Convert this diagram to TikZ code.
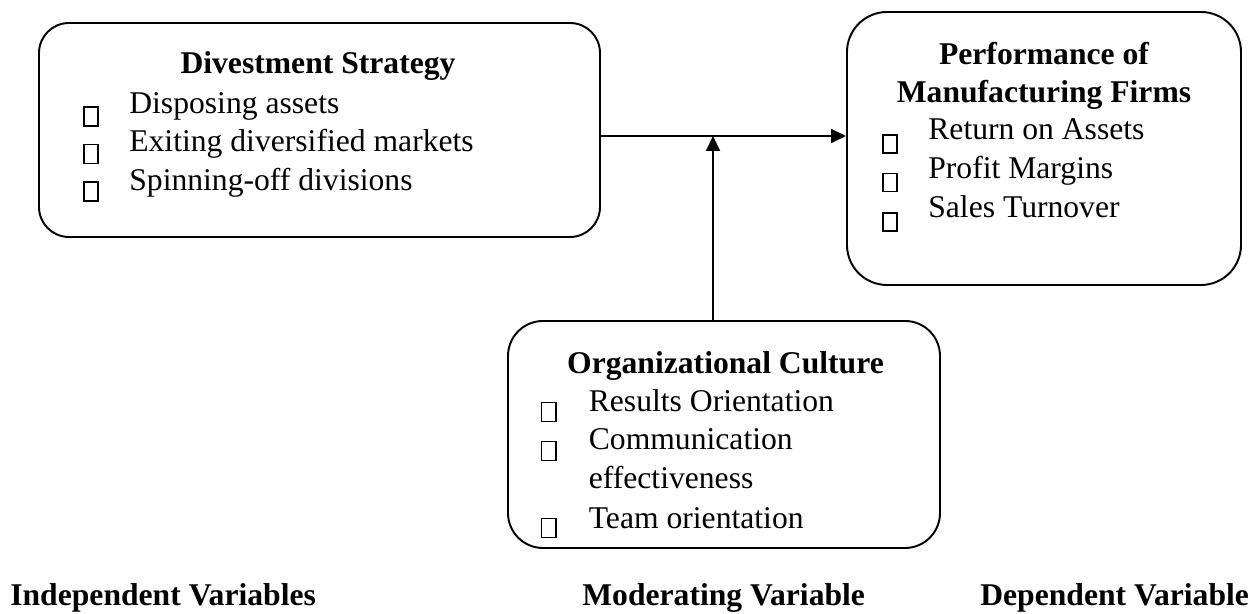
\documentclass[tikz,border=0pt]{standalone}
\usepackage{fontspec}
\setmainfont{Liberation Serif}
\usepackage{tikz}
\usetikzlibrary{arrows.meta}

\tikzset{
  box/.style={draw=black, line width=1.1pt, inner sep=0pt},
  ttl/.style={anchor=base, inner sep=0pt, font=\fontsize{18}{21.6}\selectfont\bfseries},
  itm/.style={anchor=base west, inner sep=0pt, font=\fontsize{18}{21.6}\selectfont},
  sq/.style={draw=black, line width=0.9pt},
  arr/.style={line width=1.1pt, -{Triangle[length=3mm, width=2.8mm]}}
}

\begin{document}
\begin{tikzpicture}
\useasboundingbox (0,0) rectangle (25.1,12.28);

% the three boxes
\node[box, rounded corners=0.6cm, minimum width=11.22cm, minimum height=4.28cm] (divest) at (6.39,9.68) {};
\node[box, rounded corners=0.8cm, minimum width=7.88cm, minimum height=5.46cm] (perf) at (20.88,9.31) {};
\node[box, rounded corners=0.7cm, minimum width=8.64cm, minimum height=4.54cm] (org) at (14.48,3.59) {};

\coordinate (junction) at (14.26,9.56);

\draw[arr] (divest.east |- junction) -- (perf.west |- junction);
\draw[arr] (org.north -| junction) -- (junction);

% divestment strategy
\node[ttl] (divtitle) at (6.36,10.81) {Divestment Strategy};
\node[itm] (dispose) at (2.58,10.01) {Disposing assets};
\node[itm] (exit) at (2.58,9.24) {Exiting diversified markets};
\node[itm] (spin) at (2.58,8.47) {Spinning-off divisions};
\draw[sq] (1.68,10.14) rectangle (1.96,9.76);
\draw[sq] (1.68,9.39) rectangle (1.96,9.01);
\draw[sq] (1.68,8.64) rectangle (1.96,8.26);

% performance
\node[ttl] (perftitle) at (20.88,10.98) {Performance of};
\node[ttl] (perftitleb) at (20.88,10.23) {Manufacturing Firms};
\node[itm] (roa) at (18.56,9.48) {Return on Assets};
\node[itm] (margin) at (18.56,8.71) {Profit Margins};
\node[itm] (turnover) at (18.56,7.92) {Sales Turnover};
\draw[sq] (17.66,9.58) rectangle (17.94,9.22);
\draw[sq] (17.66,8.81) rectangle (17.94,8.45);
\draw[sq] (17.66,8.02) rectangle (17.94,7.66);

% organizational culture
\node[ttl] (orgtitle) at (14.51,4.81) {Organizational Culture};
\node[itm] (results) at (11.77,4.05) {Results Orientation};
\node[itm] (comm) at (11.77,3.28) {Communication};
\node[itm] (effect) at (11.77,2.51) {effectiveness};
\node[itm] (team) at (11.77,1.71) {Team orientation};
\draw[sq] (10.83,4.23) rectangle (11.12,3.85);
\draw[sq] (10.83,3.45) rectangle (11.12,3.07);
\draw[sq] (10.83,1.91) rectangle (11.12,1.53);

% variable labels
\node[ttl, anchor=base west] (indep) at (0.2,0.16) {Independent Variables};
\node[ttl, anchor=base west] (moder) at (11.64,0.16) {Moderating Variable};
\node[ttl, anchor=base west] (dep) at (19.6,0.16) {Dependent Variable};
\end{tikzpicture}
\end{document}
